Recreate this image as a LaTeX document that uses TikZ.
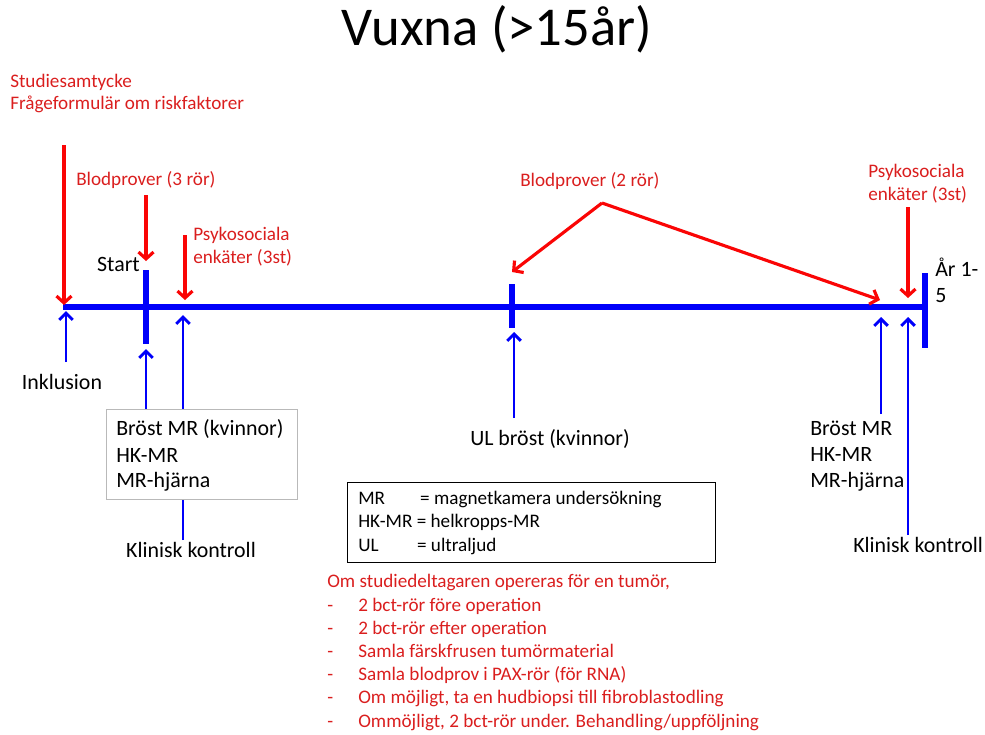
\documentclass[tikz,border=0pt]{standalone}
\usepackage{fontspec}
\setmainfont{Carlito}
\usetikzlibrary{arrows.meta}
\definecolor{txtred}{RGB}{218,30,30}
\definecolor{arrred}{RGB}{250,5,5}
\definecolor{tlblue}{RGB}{0,0,250}
\newcommand{\fsred}{\fontsize{14pt}{17pt}\selectfont}
\newcommand{\fsblk}{\fontsize{16pt}{19pt}\selectfont}
\newcommand{\fstitle}{\fontsize{40pt}{48pt}\selectfont}

\begin{document}
\begin{tikzpicture}[x=0.731pt,y=-0.731pt,
	redlbl/.style={inner sep=0pt, text=txtred, font=\fsred},
	blklbl/.style={inner sep=0pt, text=black, font=\fsblk},
	keylbl/.style={inner sep=0pt, text=black, font=\fsred},
	redarrow/.style={draw=arrred, line width=2.3pt, -{Straight Barb[length=5pt,width=11pt]}},
	bluearrow/.style={draw=tlblue, line width=2.1pt, -{Straight Barb[length=5pt,width=10pt]}},
	tickmark/.style={draw=tlblue, line width=3.7pt},
]
	\useasboundingbox (0,0) rectangle (985,735);

	\node[font=\fstitle, inner sep=0pt, anchor=base] (title) at (497,45) {Vuxna (>15år)};

	% timeline
	\coordinate (tl0) at (63,307);
	\coordinate (tl1) at (927,307);
	\coordinate (tickS1) at (146,270);
	\coordinate (tickS2) at (146,344);
	\coordinate (tickM1) at (512,284);
	\coordinate (tickM2) at (512,328);
	\coordinate (tickE1) at (925,273);
	\coordinate (tickE2) at (925,348);

	\draw[draw=tlblue, line width=4.9pt] (tl0) -- (tl1);
	\draw[tickmark] (tickS1) -- (tickS2);
	\draw[tickmark] (tickM1) -- (tickM2);
	\draw[tickmark] (tickE1) -- (tickE2);

	% red labels and arrows
	\node[redlbl, anchor=base west] (consent1) at (10,87) {Studiesamtycke};
	\node[redlbl, anchor=base west] (consent2) at (10,109) {Frågeformulär om riskfaktorer};
	\node[redlbl, anchor=base west] (blood3) at (76,185) {Blodprover (3 rör)};
	\node[redlbl, anchor=base west] (psy1a) at (193,240) {Psykosociala};
	\node[redlbl, anchor=base west] (psy1b) at (193,263) {enkäter (3st)};
	\node[redlbl, anchor=base west] (blood2) at (520,186) {Blodprover (2 rör)};
	\node[redlbl, anchor=base west] (psy2a) at (868,177) {Psykosociala};
	\node[redlbl, anchor=base west] (psy2b) at (868,200) {enkäter (3st)};

	\coordinate (consentS) at (64,145);
	\coordinate (consentE) at (64,305);
	\coordinate (blood3S) at (146,195);
	\coordinate (blood3E) at (146,261);
	\coordinate (psy1S) at (185,235);
	\coordinate (psy1E) at (185,300);
	\coordinate (blood2apex) at (602,203);
	\coordinate (blood2E1) at (512,272);
	\coordinate (blood2E2) at (880,300);
	\coordinate (psy2S) at (908,207);
	\coordinate (psy2E) at (908,298);

	\draw[redarrow] (consentS) -- (consentE);
	\draw[redarrow] (blood3S) -- (blood3E);
	\draw[redarrow] (psy1S) -- (psy1E);
	\draw[redarrow] (blood2apex) -- (blood2E1);
	\draw[redarrow] (blood2apex) -- (blood2E2);
	\draw[redarrow] (psy2S) -- (psy2E);

	% blue arrows from below
	\coordinate (inclS) at (66,362);
	\coordinate (inclE) at (66,311);
	\coordinate (mr1S) at (146,409);
	\coordinate (mr1E) at (146,349);
	\coordinate (kk1S) at (183,540);
	\coordinate (kk1E) at (183,315);
	\coordinate (ulS) at (514,418);
	\coordinate (ulE) at (514,332);
	\coordinate (mr2S) at (881,414);
	\coordinate (mr2E) at (881,317);
	\coordinate (kk2S) at (908,535);
	\coordinate (kk2E) at (908,317);

	\draw[bluearrow] (inclS) -- (inclE);
	\draw[bluearrow] (mr1S) -- (mr1E);
	\draw[bluearrow] (kk1S) -- (kk1E);
	\draw[bluearrow] (ulS) -- (ulE);
	\draw[bluearrow] (mr2S) -- (mr2E);
	\draw[bluearrow] (kk2S) -- (kk2E);

	% black labels
	\node[blklbl, anchor=base east] (start) at (140,271) {Start};
	\node[blklbl, anchor=base west] (year1) at (935,276) {År 1-};
	\node[blklbl, anchor=base west] (year2) at (935,302) {5};
	\node[blklbl, anchor=base] (incl) at (62,389) {Inklusion};

	\node[draw=gray!55, fill=white, line width=0.5pt, inner sep=0pt,
		minimum width=139.6pt, minimum height=65.8pt, anchor=north west] (mrbox) at (106,409) {};
	\node[blklbl, anchor=base west] (mr1a) at (116,435) {Bröst MR (kvinnor)};
	\node[blklbl, anchor=base west] (mr1b) at (116,462) {HK-MR};
	\node[blklbl, anchor=base west] (mr1c) at (116,487) {MR-hjärna};
	\node[blklbl, anchor=base] (kk1) at (191,557) {Klinisk kontroll};

	\node[blklbl, anchor=base west] (ul) at (470,445) {UL bröst (kvinnor)};

	\node[blklbl, anchor=base west] (mr2a) at (810,435) {Bröst MR};
	\node[blklbl, anchor=base west] (mr2b) at (810,461) {HK-MR};
	\node[blklbl, anchor=base west] (mr2c) at (810,487) {MR-hjärna};
	\node[blklbl, anchor=base west] (kk2) at (853,552) {Klinisk kontroll};

	% abbreviations
	\node[draw=black, line width=0.8pt, inner sep=0pt,
		minimum width=269pt, minimum height=58.5pt, anchor=north west] (keybox) at (347,482) {};
	\node[keylbl, anchor=base west] (key1) at (358,504) {\makebox[45.3pt][l]{MR}= magnetkamera undersökning};
	\node[keylbl, anchor=base west] (key2) at (358,527) {HK-MR = helkropps-MR};
	\node[keylbl, anchor=base west] (key3) at (358,551) {\makebox[43pt][l]{UL}= ultraljud};

	% operation list
	\node[redlbl, anchor=base west] (op0) at (327,587) {Om studiedeltagaren opereras för en tumör,};
	\node[redlbl, anchor=base west] (op1) at (327,611) {\makebox[22.7pt][l]{-}2 bct-rör före operation};
	\node[redlbl, anchor=base west] (op2) at (327,634) {\makebox[22.7pt][l]{-}2 bct-rör efter operation};
	\node[redlbl, anchor=base west] (op3) at (327,657) {\makebox[22.7pt][l]{-}Samla färskfrusen tumörmaterial};
	\node[redlbl, anchor=base west] (op4) at (327,680) {\makebox[22.7pt][l]{-}Samla blodprov i PAX-rör (för RNA)};
	\node[redlbl, anchor=base west] (op5) at (327,703) {\makebox[22.7pt][l]{-}Om möjligt, ta en hudbiopsi till fibroblastodling};
	\node[redlbl, anchor=base west] (op6) at (327,727) {\makebox[22.7pt][l]{-}Ommöjligt, 2 bct-rör under. Behandling/uppföljning};
\end{tikzpicture}
\end{document}
